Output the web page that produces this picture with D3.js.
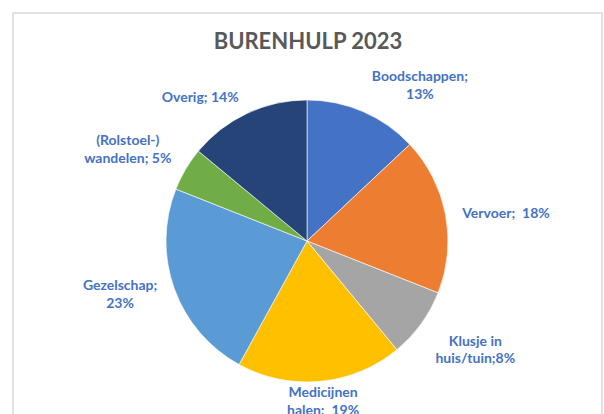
<!DOCTYPE html>
<html>
<head>
<meta charset="utf-8">
<script src="https://cdn.jsdelivr.net/npm/d3@7"></script>
<style>
  body { margin: 0; background: #fff; }
  svg { display: block; font-family: Lato, "Open Sans", sans-serif; }
  .label { white-space: pre; }
</style>
</head>
<body>
<div id="chart-container"></div>
<script>
// Burenhulp 2023 - verdeling van hulpvragen
const categories = ["Boodschappen", "Vervoer", "Klusje in huis/tuin", "Medicijnen halen", "Gezelschap", "(Rolstoel-) wandelen", "Overig"];
const values = [13, 18, 8, 19, 23, 5, 14];
const labelLines = [
    ["Boodschappen;", "13%"],
    ["Vervoer;  18%"],
    ["Klusje in", "huis/tuin;8%"],
    ["Medicijnen", "halen;  19%"],
    ["Gezelschap;", "23%"],
    ["(Rolstoel-)", "wandelen; 5%"],
    ["Overig; 14%"]
];
const colors = ["#4472C4", "#ED7D31", "#A5A5A5", "#FFC000", "#5B9BD5", "#70AD47", "#264478"];

createPieChart();

function createPieChart() {
    const width = 604;
    const height = 414;
    const cx = 307, cy = 241, radius = 141;

    const svg = d3.select("#chart-container")
        .append("svg")
        .attr("width", width)
        .attr("height", height);

    // chart frame (runs off the bottom/right like the screenshot)
    svg.append("rect")
        .attr("x", 13)
        .attr("y", 13)
        .attr("width", 589)
        .attr("height", 420)
        .attr("fill", "#fff")
        .attr("stroke", "#d9d9d9")
        .attr("stroke-width", 1.5);

    svg.append("text")
        .attr("x", 308)
        .attr("y", 49)
        .attr("text-anchor", "middle")
        .attr("fill", "#595959")
        .style("font-size", "22px")
        .style("font-weight", "bold")
        .text("BURENHULP 2023");

    const pie = d3.pie().sort(null).value(d => d);
    const arcs = pie(values);
    const arc = d3.arc().innerRadius(0).outerRadius(radius);
    const labelArc = d3.arc().innerRadius(radius + 30).outerRadius(radius + 30);

    const g = svg.append("g")
        .attr("transform", `translate(${cx},${cy})`);

    g.selectAll("path")
        .data(arcs)
        .enter()
        .append("path")
        .attr("d", arc)
        .attr("fill", (d, i) => colors[i])
        .attr("stroke", "#fff")
        .attr("stroke-width", 0.6);

    // nudges from the outside anchor, Excel "best fit" style
    const nudge = [[45, -3], [31, 9], [30, 4], [0, -14], [-26, -9], [-32, -9], [-34, 16]];

    const labels = g.selectAll(".label")
        .data(arcs)
        .enter()
        .append("text")
        .attr("class", "label")
        .attr("text-anchor", "middle")
        .attr("fill", "#4472C4")
        .style("font-size", "14px")
        .style("font-weight", "bold")
        .attr("transform", (d, i) => {
            const p = labelArc.centroid(d);
            return `translate(${p[0] + nudge[i][0]},${p[1] + nudge[i][1]})`;
        });

    labels.selectAll("tspan")
        .data((d, i) => labelLines[i])
        .enter()
        .append("tspan")
        .attr("x", 0)
        .attr("y", (d, j) => j * 17.6)
        .text(d => d);
}
</script>
</body>
</html>
